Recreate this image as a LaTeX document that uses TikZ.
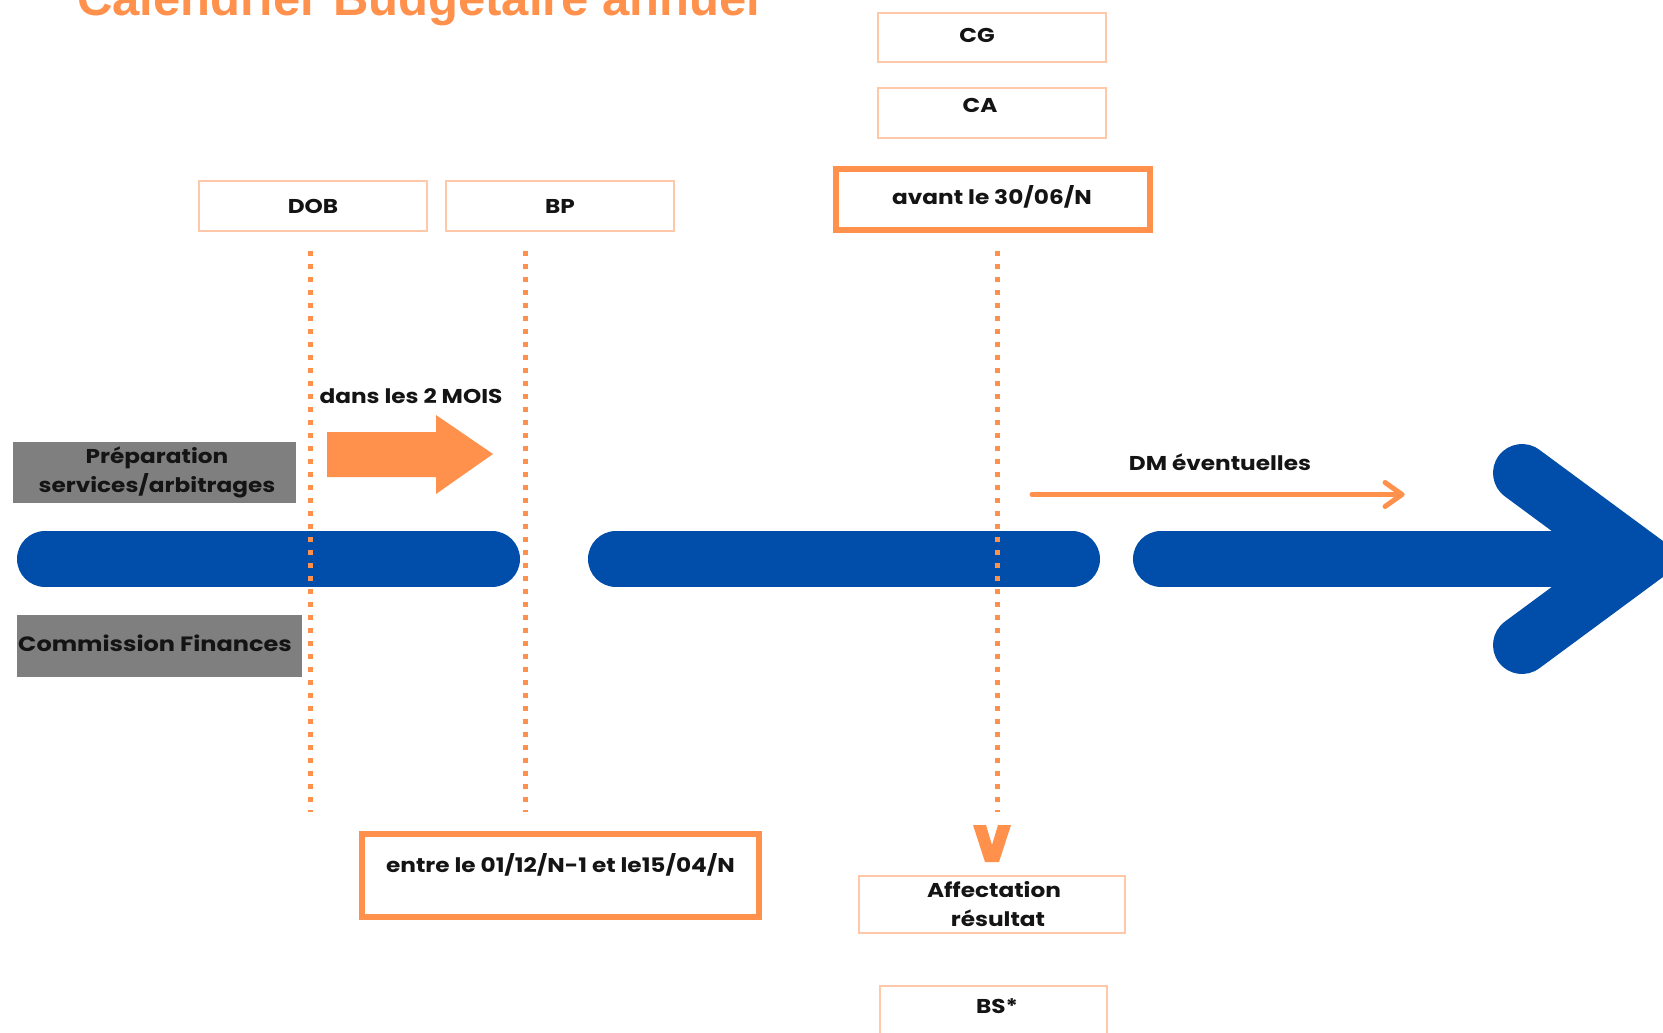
\documentclass[tikz,border=0pt]{standalone}
\usepackage{fontspec}
\setmainfont{Poppins}[FakeStretch=1.16]
\newfontfamily\titlefont{Liberation Sans}
\usetikzlibrary{arrows.meta}
\definecolor{myorange}{RGB}{255,145,77}
\definecolor{lightorange}{RGB}{255,200,168}
\definecolor{myblue}{RGB}{0,77,170}
\definecolor{mygray}{RGB}{127,127,127}
\definecolor{txt}{RGB}{20,20,20}
\tikzset{
  thinbox/.style={draw=lightorange, line width=2.5pt, fill=white, inner sep=0pt},
  thickbox/.style={draw=myorange, line width=6pt, fill=white, inner sep=0pt},
  graybox/.style={fill=mygray, draw=none, inner sep=0pt},
  lbl/.style={font=\fontsize{20}{24}\selectfont\bfseries, text=txt, anchor=base, inner sep=0pt},
  dotline/.style={myorange, line width=5pt, dash pattern=on 5pt off 8pt},
  bluebar/.style={myblue, line width=56pt, line cap=round},
}
\begin{document}
\begin{tikzpicture}[x=1pt,y=-1pt]
\useasboundingbox (0,0) rectangle (1663,1033);
\clip (0,0) rectangle (1663,1033);
\fill[white] (0,0) rectangle (1663,1033);

% title
\node[anchor=base west, inner sep=0pt, font=\titlefont\bfseries\fontsize{49}{55}\selectfont, text=myorange] (title) at (77,16) {Calendrier Budgétaire annuel};

% boxes
\node[thinbox, minimum width=228pt, minimum height=49pt] (cg) at (992,37.5) {};
\node[thinbox, minimum width=228pt, minimum height=50pt] (ca) at (992,113) {};
\node[thickbox, minimum width=314pt, minimum height=61pt] (avant) at (993,199.5) {};
\node[thinbox, minimum width=228pt, minimum height=50pt] (dob) at (313,206) {};
\node[thinbox, minimum width=228pt, minimum height=50pt] (bp) at (560,206) {};
\node[thickbox, minimum width=397pt, minimum height=83pt] (entre) at (560.5,875.5) {};
\node[thinbox, minimum width=266pt, minimum height=57pt] (aff) at (992,904.5) {};
\node[thinbox, minimum width=227pt, minimum height=74pt] (bs) at (993.5,1023) {};
\node[graybox, minimum width=283pt, minimum height=61pt] (prep) at (154.5,472.5) {};
\node[graybox, minimum width=285pt, minimum height=62pt] (com) at (159.5,646) {};

% blue timeline
\draw[bluebar] (45,559) -- (492,559);
\draw[bluebar] (616,559) -- (1072,559);
\draw[bluebar] (1161,559) -- (1620,559);
\draw[myblue, line width=58pt, line cap=round, line join=miter, miter limit=10]
  (1522,473) -- (1638.5,559) -- (1522,645);

% orange block arrow
\fill[myorange] (327,432) -- (436,432) -- (436,415) -- (493,454) -- (436,494) -- (436,477) -- (327,477) -- cycle;

% dotted lines
\coordinate (d1a) at (310,251); \coordinate (d1b) at (310,812);
\coordinate (d2a) at (525,251); \coordinate (d2b) at (525,812);
\coordinate (d3a) at (997,251); \coordinate (d3b) at (997,812);
\draw[dotline] (d1a) -- (d1b);
\draw[dotline] (d2a) -- (d2b);
\draw[dotline] (d3a) -- (d3b);

% V mark
\fill[myorange] (973,825) -- (986,825) -- (992,845) -- (998,825) -- (1011,825) -- (999,862) -- (985,862) -- cycle;

% DM arrow
\coordinate (dma) at (1032,494.5);
\coordinate (dmb) at (1402,494.5);
\draw[myorange, line width=5pt, line cap=round] (dma) -- (dmb);
\draw[myorange, line width=5pt, line cap=round, line join=round] (1385,482.5) -- (dmb) -- (1385,506.5);

% labels
\node[lbl] (tcg) at (977,43) {CG};
\node[lbl] (tca) at (980,113) {CA};
\node[lbl] (tavant) at (992,204) {avant le 30/06/N};
\node[lbl] (tdob) at (313,213) {DOB};
\node[lbl] (tbp) at (560,213) {BP};
\node[lbl] (tdans) at (411,403) {dans les 2 MOIS};
\node[lbl] (tprep1) at (157,463) {Préparation};
\node[lbl] (tprep2) at (157,492) {services/arbitrages};
\node[lbl, font=\fontsize{20.7}{25}\selectfont\bfseries] (tcom) at (155,651) {Commission Finances};
\node[lbl] (tdm) at (1220,470) {DM éventuelles};
\node[lbl] (tentre) at (560.5,872) {entre le 01/12/N-1 et le15/04/N};
\node[lbl] (taff1) at (994,897) {Affectation};
\node[lbl] (taff2) at (998,926) {résultat};
\node[lbl] (tbs) at (997,1013) {BS*};
\end{tikzpicture}
\end{document}
